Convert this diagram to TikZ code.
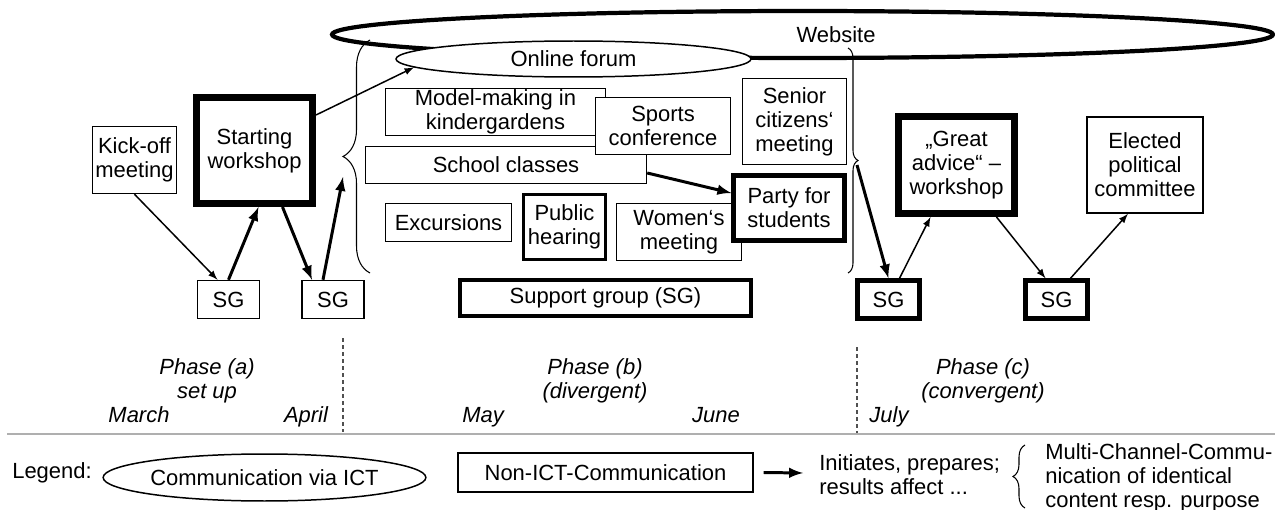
\documentclass[tikz,border=0pt]{standalone}
\usepackage{fontspec}
\setmainfont{Liberation Sans}
\usepackage{color}
\definecolor{rulegray}{RGB}{175,175,175}
\definecolor{dashgray}{RGB}{80,80,80}
\usepackage{tikz}
\usetikzlibrary{calc,arrows,positioning,shapes.geometric,decorations.pathreplacing}
\tikzstyle{box}=[draw,rectangle,fill=white,align=center,inner sep=0pt,line width=0.85pt]
\tikzstyle{midbox}=[box,line width=1.7pt]
\tikzstyle{thickbox}=[box,line width=2.5pt]
\tikzstyle{heavybox}=[box,line width=4pt]
\tikzstyle{sg}=[minimum width=1.24cm,minimum height=0.76cm]
\tikzstyle{oval}=[draw,ellipse,fill=white,inner sep=0pt,line width=0.85pt]
\tikzstyle{phase}=[align=center,font=\fontsize{12.5}{13.6}\selectfont\itshape]
\tikzstyle{month}=[phase,anchor=base]
\tikzstyle{thinarrow}=[-latex,line width=0.85pt]
\tikzstyle{thickarrow}=[-latex,line width=1.7pt]
\tikzstyle{curly}=[decorate,line width=0.6pt]

\begin{document}
\begin{tikzpicture}[x=0.02cm,y=-0.02cm,font=\fontsize{12.5}{13.6}\selectfont]
\useasboundingbox (0,0) rectangle (1275,510);

% ICT channels
\node [oval,line width=2.4pt,minimum width=18.82cm,minimum height=0.94cm] (web) at (802.5,34.5) {};
\node (webtext) at (836,35) {Website};
\node [oval,minimum width=7.1cm,minimum height=0.72cm] (forum) at (573.5,59) {Online forum};

% phase (a)
\node [box,minimum width=1.68cm,minimum height=1.34cm] (kick) at (134.5,160) {Kick-off\\meeting};
\node [heavybox,minimum width=2.32cm,minimum height=2.12cm] (start) at (254.5,150.5) {Starting\\workshop};
\node [box,sg] (sga) at (228.5,299.5) {SG};
\node [box,sg] (sgb) at (333,299.5) {SG};

% phase (b)
\node [box,minimum width=4.4cm,minimum height=0.94cm] (model) at (495.5,112) {Model-making in\\kindergardens};
\node [box,minimum width=5.62cm,minimum height=0.74cm] (school) at (506,165) {School classes};
\node [box,minimum width=2.7cm,minimum height=1.14cm] (sports) at (663,126) {Sports\\conference};
\node [box,minimum width=2.08cm,minimum height=1.72cm] (senior) at (794.5,121.5) {Senior\\citizens‘\\meeting};
\node [box,minimum width=2.52cm,minimum height=0.76cm] (excursions) at (448.5,222.5) {Excursions};
\node [midbox,minimum width=1.64cm,minimum height=1.3cm] (hearing) at (564.5,227) {Public\\hearing};
\node [box,minimum width=2.5cm,minimum height=1.14cm] (women) at (679,232) {Women‘s\\meeting};
\node [thickbox,minimum width=2.22cm,minimum height=1.3cm] (party) at (789,208) {Party for\\students};
\node [thickbox,minimum width=5.82cm,minimum height=0.72cm] (support) at (605.5,298) {Support group (SG)};

% phase (c)
\node [thickbox,sg] (sgc) at (888.5,299.5) {SG};
\node [heavybox,minimum width=2.32cm,minimum height=1.94cm] (great) at (956.5,165) {„Great\\advice“ –\\workshop};
\node [thickbox,sg] (sgd) at (1056.5,299.5) {SG};
\node [box,minimum width=2.32cm,minimum height=1.92cm] (elected) at (1145,165) {Elected\\political\\committee};

% braces round phase (b)
\draw [curly,decoration={brace,amplitude=0.54cm}] (370,273) -- (370,40);
\draw [curly,decoration={brace,amplitude=0.2cm}] (848,48) -- (848,273);
\coordinate (sgtip) at (343,177);
\coordinate (bracetip) at (857,165);

% arrows
\draw [thinarrow] (kick.south) -- ($(sga.north)+(-11,0)$);
\draw [thickarrow] (sga.north) -- ($(start.south)+(4,0)$);
\draw [thickarrow] ($(start.south)+(28,0)$) -- ($(sgb.north)+(-21,0)$);
\draw [thickarrow] ($(sgb.north)+(-10,0)$) -- (sgtip);
\draw [thinarrow] ($(start.north east)+(0,21)$) -- (forum.183);
\draw [thickarrow] ($(school.east)+(0,8)$) -- ($(party.west)+(0,-15)$);
\draw [thickarrow] (bracetip) -- (sgc.north);
\draw [thinarrow] ($(sgc.north)+(11,0)$) -- ($(great.south)+(-26,0)$);
\draw [thinarrow] ($(great.south)+(40,0)$) -- ($(sgd.north)+(-11,0)$);
\draw [thinarrow] ($(sgd.north)+(14,0)$) -- ($(elected.south)+(-17,0)$);

% time line
\draw [dashgray,dash pattern=on 2.3pt off 1.7pt,line width=0.8pt] (343,338) -- (343,432);
\draw [dashgray,dash pattern=on 2.3pt off 1.7pt,line width=0.8pt] (857,347) -- (857,434);
\draw [rulegray,line width=0.9pt] (7,434) -- (1275,434);
\node [phase] (pha) at (207,381) {Phase (a)\\set up};
\node [month] (march) at (139,422) {March};
\node [month] (april) at (306,422) {April};
\node [phase] (phb) at (595,381) {Phase (b)\\(divergent)};
\node [month] (may) at (483,422) {May};
\node [month] (june) at (716,422) {June};
\node [phase] (phc) at (983,381) {Phase (c)\\(convergent)};
\node [month] (july) at (889,422) {July};

% legend
\node (legend) at (52,473) {Legend:};
\node [oval,minimum width=6.06cm,minimum height=0.94cm] (ict) at (264.5,477.5) {Communication via ICT};
\node [box,minimum width=5.9cm,minimum height=0.78cm] (nonict) at (605.5,472.5) {Non-ICT-Communication};
\coordinate (legto) at (803,473);
\draw [thickarrow] ($(nonict.east)+(10,0)$) -- (legto);
\node [anchor=west,align=left,inner sep=0pt] (initiates) at (819,475) {Initiates, prepares;\\results affect ...};
\draw [curly,decoration={brace,amplitude=0.24cm}] (1025,508) -- (1025,445);
\node [anchor=west,align=left,inner sep=0pt] (multi) at (1045,477.5) {Multi-Channel-Commu-\\nication of identical\\content resp. purpose};
\end{tikzpicture}
\end{document}
